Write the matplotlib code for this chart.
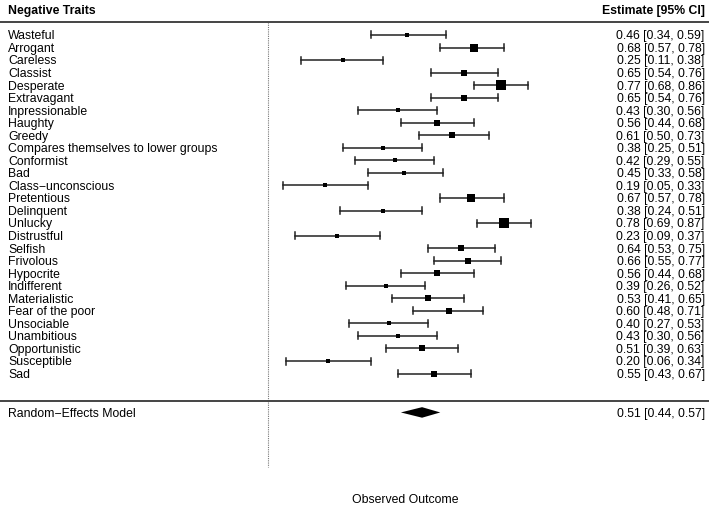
import numpy as np
import matplotlib
matplotlib.use('Agg')
import matplotlib.pyplot as plt

plt.rcParams['font.family'] = ['Liberation Sans', 'DejaVu Sans']

traits = [
    'Wasteful', 'Arrogant', 'Careless', 'Classist', 'Desperate', 'Extravagant',
    'Inpressionable', 'Haughty', 'Greedy', 'Compares themselves to lower groups',
    'Conformist', 'Bad', 'Class\u2212unconscious', 'Pretentious', 'Delinquent',
    'Unlucky', 'Distrustful', 'Selfish', 'Frivolous', 'Hypocrite', 'Indifferent',
    'Materialistic', 'Fear of the poor', 'Unsociable', 'Unambitious',
    'Opportunistic', 'Susceptible', 'Sad'
]
est = [0.46, 0.68, 0.25, 0.65, 0.77, 0.65, 0.43, 0.56, 0.61, 0.38, 0.42, 0.45,
       0.19, 0.67, 0.38, 0.78, 0.23, 0.64, 0.66, 0.56, 0.39, 0.53, 0.60, 0.40,
       0.43, 0.51, 0.20, 0.55]
ci_lo = [0.34, 0.57, 0.11, 0.54, 0.68, 0.54, 0.30, 0.44, 0.50, 0.25, 0.29, 0.33,
         0.05, 0.57, 0.24, 0.69, 0.09, 0.53, 0.55, 0.44, 0.26, 0.41, 0.48, 0.27,
         0.30, 0.39, 0.06, 0.43]
ci_hi = [0.59, 0.78, 0.38, 0.76, 0.86, 0.76, 0.56, 0.68, 0.73, 0.51, 0.55, 0.58,
         0.33, 0.78, 0.51, 0.87, 0.37, 0.75, 0.77, 0.68, 0.52, 0.65, 0.71, 0.53,
         0.56, 0.63, 0.34, 0.67]

re_est, re_lo, re_hi = 0.51, 0.44, 0.57

est = np.array(est)
lo = np.array(ci_lo)
hi = np.array(ci_hi)

# square size from inverse variance (like metafor psize 0.5 .. 1.5)
se = (hi - lo) / 3.92
w = 1 / se ** 2
psize = (w - w.min()) / (w.max() - w.min()) + 0.5

fig = plt.figure(figsize=(7.09, 5.08), dpi=100)
ax = fig.add_axes([0, 0, 1, 1])
ax.set_xlim(-0.883, 1.457)
ax.set_ylim(38.72, -1.79)
ax.axis('off')

rows = np.arange(1, len(traits) + 1)
fs = 8.8
dy = 0.35  # baseline offset so text is centred on the row

# reference line at 0
ax.plot([0, 0], [0, 35.45], color='#777777', lw=0.8, ls=(0, (1, 1)))

# header + separator lines
ax.axhline(0, color='#444444', lw=1.4)
ax.axhline(30.2, color='#444444', lw=1.4)
trans = ax.get_yaxis_transform()
ax.text(0.0113, -1.0 + dy, 'Negative Traits', transform=trans, ha='left',
        va='baseline', fontsize=fs, fontweight='bold')
ax.text(0.994, -1.0 + dy, 'Estimate [95% CI]', transform=trans, ha='right',
        va='baseline', fontsize=fs, fontweight='bold')

cap = 0.28
for r, e, l, h, p, name in zip(rows, est, lo, hi, psize, traits):
    ax.plot([l, h], [r, r], color='#222222', lw=1.1)
    ax.plot([l, l], [r - cap, r + cap], color='#222222', lw=1.1)
    ax.plot([h, h], [r - cap, r + cap], color='#222222', lw=1.1)
    ax.plot(e, r, marker='s', color='black', ms=5.0 * p, mew=0)
    ax.text(0.0113, r + dy, name, transform=trans, ha='left', va='baseline',
            fontsize=fs)
    ax.text(0.994, r + dy, f'{e:.2f} [{l:.2f}, {h:.2f}]', transform=trans,
            ha='right', va='baseline', fontsize=fs)

# summary diamond
re_row = 31.1
ax.fill([re_lo, re_est, re_hi, re_est],
        [re_row, re_row - 0.42, re_row, re_row + 0.42], color='black', lw=0)
ax.text(0.0113, re_row + dy, 'Random\u2212Effects Model', transform=trans,
        ha='left', va='baseline', fontsize=fs)
ax.text(0.994, re_row + dy, f'{re_est:.2f} [{re_lo:.2f}, {re_hi:.2f}]',
        transform=trans, ha='right', va='baseline', fontsize=fs)

ax.text(0.455, 38.0 + dy, 'Observed Outcome', ha='center', va='baseline',
        fontsize=fs)

fig.savefig('out.png', dpi=100)
